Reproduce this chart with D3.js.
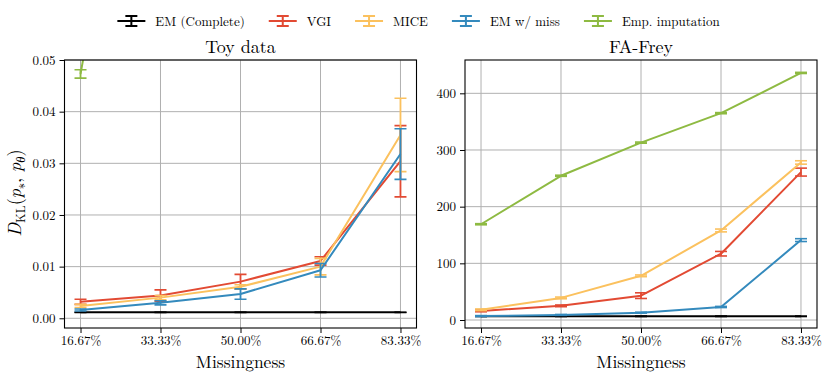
<!DOCTYPE html>
<html>
<head>
<meta charset="utf-8">
<script src="https://cdn.jsdelivr.net/npm/d3@7"></script>
<style>
  html, body { margin: 0; padding: 0; background: #fff; }
  svg { display: block; }
</style>
</head>
<body>
<svg id="chart" width="830" height="380"></svg>
<script>
// ---------------- DATA ----------------
const categories = ["16.67%", "33.33%", "50.00%", "66.67%", "83.33%"];
const missingness = [16.67, 33.33, 50.0, 66.67, 83.33];
const seriesNames = ["EM (Complete)", "VGI", "MICE", "EM w/ miss", "Emp. imputation"];
const seriesColors = ["#000000", "#E24A33", "#FBC15E", "#348ABD", "#8EBA42"];

// Toy data panel
const toyEMComplete    = [0.00115, 0.00115, 0.00115, 0.00115, 0.00115];
const toyEMCompleteErr = [0.00003, 0.00003, 0.00003, 0.00003, 0.00003];
const toyVGI           = [0.0032, 0.0044, 0.0071, 0.0111, 0.0304];
const toyVGIErr        = [0.0005, 0.0011, 0.0014, 0.0008, 0.0069];
const toyMICE          = [0.0024, 0.0040, 0.0061, 0.0100, 0.0355];
const toyMICEErr       = [0.0003, 0.0004, 0.0004, 0.0016, 0.0071];
const toyEMMiss        = [0.0016, 0.0030, 0.0047, 0.0093, 0.0318];
const toyEMMissErr     = [0.0002, 0.0004, 0.0010, 0.0013, 0.0049];
const toyEmp           = [0.0473, 0.133, 0.21, 0.28, 0.35];
const toyEmpErr        = [0.0008, 0.002, 0.002, 0.002, 0.002];
const toyTicks         = [0.00, 0.01, 0.02, 0.03, 0.04, 0.05];

// FA-Frey panel
const freyEMComplete    = [6.5, 6.5, 6.5, 6.5, 6.5];
const freyEMCompleteErr = [0.3, 0.3, 0.3, 0.3, 0.3];
const freyVGI           = [16, 25, 43, 117, 261];
const freyVGIErr        = [1.5, 1.5, 5, 4, 7];
const freyMICE          = [18, 39, 78, 158, 278];
const freyMICEErr       = [1.5, 1.5, 1.5, 2.5, 3];
const freyEMMiss        = [7, 9, 13, 23, 141];
const freyEMMissErr     = [0.8, 0.8, 0.8, 1, 2.5];
const freyEmp           = [169, 254.5, 313, 365, 436];
const freyEmpErr        = [1, 1, 1, 1, 1];
const freyTicks         = [0, 100, 200, 300, 400];

// ---------------- DRAW ----------------
const FONT = "Latin Modern Roman";
const svg = d3.select("#chart");

function panel(opts) {
  const { left, right, top, bottom, yDomain, series, errs, ticks, tickFmt, title, clipId } = opts;
  const x = d3.scaleLinear().domain([13.333, 86.667]).range([left, right]);
  const y = d3.scaleLinear().domain(yDomain).range([bottom, top]);
  const g = svg.append("g");

  g.append("clipPath").attr("id", clipId)
    .append("rect").attr("x", left).attr("y", top)
    .attr("width", right - left).attr("height", bottom - top);

  // grid
  const grid = g.append("g");
  missingness.forEach(v => {
    grid.append("line").attr("x1", x(v)).attr("x2", x(v)).attr("y1", top).attr("y2", bottom)
      .attr("stroke", "#b0b0b0").attr("stroke-width", 1);
  });
  ticks.forEach(v => {
    grid.append("line").attr("x1", left).attr("x2", right).attr("y1", y(v)).attr("y2", y(v))
      .attr("stroke", "#b0b0b0").attr("stroke-width", 1);
  });

  // series
  const plot = g.append("g").attr("clip-path", `url(#${clipId})`);
  const line = d3.line().x((d, i) => x(missingness[i])).y(d => y(d));
  series.forEach((vals, si) => {
    const col = seriesColors[si];
    const sg = plot.append("g");
    sg.append("path").datum(vals).attr("d", line)
      .attr("fill", "none").attr("stroke", col).attr("stroke-width", 2)
      .attr("stroke-linejoin", "round");
    vals.forEach((v, i) => {
      const e = errs[si][i];
      const cx = x(missingness[i]);
      sg.append("line").attr("x1", cx).attr("x2", cx).attr("y1", y(v - e)).attr("y2", y(v + e))
        .attr("stroke", col).attr("stroke-width", 1.8);
      [v - e, v + e].forEach(c => {
        sg.append("line").attr("x1", cx - 6).attr("x2", cx + 6).attr("y1", y(c)).attr("y2", y(c))
          .attr("stroke", col).attr("stroke-width", 1.6);
      });
    });
  });

  // axes
  const xAxis = d3.axisBottom(x).tickValues(missingness)
    .tickFormat((d, i) => categories[i]).tickSize(5).tickPadding(3).tickSizeOuter(0);
  const xg = g.append("g").attr("transform", `translate(0,${bottom})`).call(xAxis);
  const yAxis = d3.axisLeft(y).tickValues(ticks).tickFormat(tickFmt)
    .tickSize(5).tickPadding(4).tickSizeOuter(0);
  const yg = g.append("g").attr("transform", `translate(${left},0)`).call(yAxis);
  [xg, yg].forEach(a => {
    a.attr("font-family", FONT).attr("font-size", 13);
    a.select(".domain").remove();
    a.selectAll("line").attr("stroke", "#000").attr("stroke-width", 1);
    a.selectAll("text").attr("font-family", FONT).attr("font-size", 13).attr("fill", "#000");
  });

  // frame
  g.append("rect").attr("x", left).attr("y", top).attr("width", right - left).attr("height", bottom - top)
    .attr("fill", "none").attr("stroke", "#000").attr("stroke-width", 1.1);

  // title
  g.append("text").attr("x", (left + right) / 2).attr("y", 53)
    .attr("text-anchor", "middle").attr("font-family", FONT).attr("font-size", 18)
    .attr("fill", "#000").text(title);
  // x label
  g.append("text").attr("x", (left + right) / 2).attr("y", 368)
    .attr("text-anchor", "middle").attr("font-family", FONT).attr("font-size", 17.5)
    .attr("fill", "#000").text("Missingness");
}

panel({
  left: 64.5, right: 416.5, top: 60, bottom: 328,
  yDomain: [-0.00188, 0.05],
  series: [toyEMComplete, toyVGI, toyMICE, toyEMMiss, toyEmp],
  errs: [toyEMCompleteErr, toyVGIErr, toyMICEErr, toyEMMissErr, toyEmpErr],
  ticks: toyTicks, tickFmt: d3.format(".2f"), title: "Toy data", clipId: "clipToy"
});
panel({
  left: 465, right: 817, top: 60, bottom: 328,
  yDomain: [-14.1, 458.8],
  series: [freyEMComplete, freyVGI, freyMICE, freyEMMiss, freyEmp],
  errs: [freyEMCompleteErr, freyVGIErr, freyMICEErr, freyEMMissErr, freyEmpErr],
  ticks: freyTicks, tickFmt: d3.format("d"), title: "FA-Frey", clipId: "clipFrey"
});

// y label for toy panel
const yl = svg.append("text")
  .attr("transform", "translate(21,193) rotate(-90)")
  .attr("text-anchor", "middle").attr("font-family", FONT).attr("font-size", 18).attr("fill", "#000");
yl.append("tspan").attr("font-style", "italic").text("D");
yl.append("tspan").attr("font-size", 12.5).attr("dy", 4).text("KL");
yl.append("tspan").attr("dy", -4).text("(");
yl.append("tspan").attr("font-style", "italic").text("p");
yl.append("tspan").attr("font-size", 12.5).attr("dy", 4).text("∗");
yl.append("tspan").attr("dy", -4).text(", ");
yl.append("tspan").attr("font-style", "italic").text("p");
yl.append("tspan").attr("font-style", "italic").attr("font-size", 12.5).attr("dy", 4).text("θ");
yl.append("tspan").attr("dy", -4).text(")");

// legend
const leg = svg.append("g");
const legY = 21;
let cursor = 0;
seriesNames.forEach((name, i) => {
  const ig = leg.append("g");
  const hx = cursor;
  ig.append("line").attr("x1", hx).attr("x2", hx + 28).attr("y1", legY).attr("y2", legY)
    .attr("stroke", seriesColors[i]).attr("stroke-width", 2);
  ig.append("line").attr("x1", hx + 14).attr("x2", hx + 14).attr("y1", legY - 5).attr("y2", legY + 5)
    .attr("stroke", seriesColors[i]).attr("stroke-width", 2);
  [legY - 5, legY + 5].forEach(cy => {
    ig.append("line").attr("x1", hx + 8).attr("x2", hx + 20).attr("y1", cy).attr("y2", cy)
      .attr("stroke", seriesColors[i]).attr("stroke-width", 2);
  });
  const t = ig.append("text").attr("x", hx + 38).attr("y", legY + 4.5)
    .attr("font-family", FONT).attr("font-size", 13).attr("fill", "#000").text(name);
  const w = t.node().getComputedTextLength();
  cursor = hx + 38 + w + 24;
});
const totalW = cursor - 24;
leg.attr("transform", `translate(${418.5 - totalW / 2},0)`);
</script>
</body>
</html>
